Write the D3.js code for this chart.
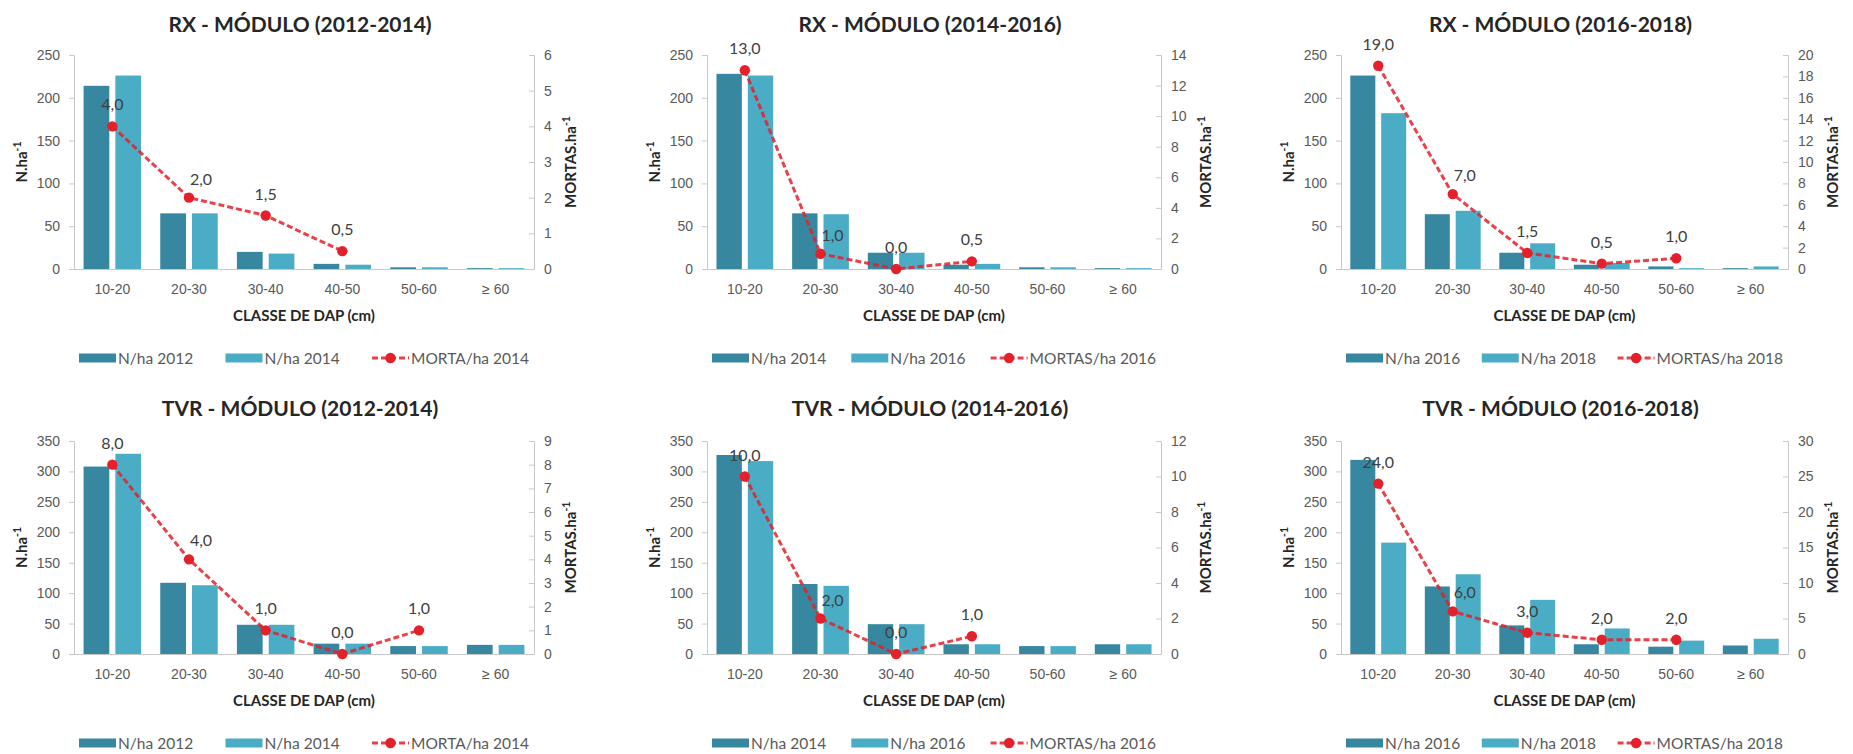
<!DOCTYPE html>
<html>
<head>
<meta charset="utf-8">
<script src="https://cdn.jsdelivr.net/npm/d3@7"></script>
<style>
  html, body { margin: 0; padding: 0; background: #ffffff; }
  svg { display: block; font-family: Lato, "Open Sans", "Liberation Sans", sans-serif; }
</style>
</head>
<body>
<svg id="fig" width="1853" height="754"></svg>
<script>
// Diameter classes (DAP, cm)
const classes = ["10-20", "20-30", "30-40", "40-50", "50-60", "≥ 60"];

// Panel titles
const titles = [
  "RX - MÓDULO (2012-2014)", "RX - MÓDULO (2014-2016)", "RX - MÓDULO (2016-2018)",
  "TVR - MÓDULO (2012-2014)", "TVR - MÓDULO (2014-2016)", "TVR - MÓDULO (2016-2018)"
];

// Legend entries per panel: [first inventory, second inventory, mortality]
const legendNames = [
  ["N/ha 2012", "N/ha 2014", "MORTA/ha 2014"],
  ["N/ha 2014", "N/ha 2016", "MORTAS/ha 2016"],
  ["N/ha 2016", "N/ha 2018", "MORTAS/ha 2018"],
  ["N/ha 2012", "N/ha 2014", "MORTA/ha 2014"],
  ["N/ha 2014", "N/ha 2016", "MORTAS/ha 2016"],
  ["N/ha 2016", "N/ha 2018", "MORTAS/ha 2018"]
];

// Trees per hectare by class
const rx2012 = [214, 65, 20, 6, 2, 1];
const rx2014a = [226, 65, 18, 5, 2, 1];
const rx2014b = [228, 65, 19, 5, 2, 1];
const rx2016a = [226, 64, 19, 6, 2, 1];
const rx2016b = [226, 64, 19, 5, 3, 1];
const rx2018 = [182, 68, 30, 7, 1, 3];
const tvr2012 = [308, 117, 48, 17, 13, 15];
const tvr2014a = [329, 113, 48, 17, 13, 15];
const tvr2014b = [327, 115, 49, 16, 13, 16];
const tvr2016a = [317, 112, 49, 16, 13, 16];
const tvr2016b = [319, 111, 47, 16, 12, 14];
const tvr2018 = [183, 131, 89, 42, 22, 25];

// Dead trees per hectare by class (null = no value)
const rxDead2014 = [4.0, 2.0, 1.5, 0.5, null, null];
const rxDead2016 = [13.0, 1.0, 0.0, 0.5, null, null];
const rxDead2018 = [19.0, 7.0, 1.5, 0.5, 1.0, null];
const tvrDead2014 = [8.0, 4.0, 1.0, 0.0, 1.0, null];
const tvrDead2016 = [10.0, 2.0, 0.0, 1.0, null, null];
const tvrDead2018 = [24.0, 6.0, 3.0, 2.0, 2.0, null];

// Axis extents and tick steps
const leftMax = [250, 250, 250, 350, 350, 350];
const leftStep = [50, 50, 50, 50, 50, 50];
const rightMax = [6, 14, 20, 9, 12, 30];
const rightStep = [1, 2, 2, 1, 2, 5];

const series = [
  [rx2012, rx2014a, rxDead2014],
  [rx2014b, rx2016a, rxDead2016],
  [rx2016b, rx2018, rxDead2018],
  [tvr2012, tvr2014a, tvrDead2014],
  [tvr2014b, tvr2016a, tvrDead2016],
  [tvr2016b, tvr2018, tvrDead2018]
];

// Plot frames (pixels)
const cols = [
  { l: 74, r: 534 },
  { l: 707, r: 1161 },
  { l: 1341, r: 1788 }
];
const rows = [
  { t: 55, b: 269, titleY: 32 },
  { t: 441, b: 654, titleY: 416 }
];

// Value-label nudges per class (the 20-30 labels sit right of the steep segment)
const labelShift = [[0, 0], [12, 3], [0, 0], [0, 0], [0, 0], [0, 0]];

const colDark = "#3787a0";
const colLight = "#4bacc6";
const colRed = "#e4202a";
const colAxis = "#c8c8c8";
const colTick = "#595959";
const colText = "#404040";
const colTitle = "#262626";

const fmt = v => d3.format(".1f")(v).replace(".", ",");

const svg = d3.select("#fig");

function supLabel(sel, base) {
  sel.append("tspan").text(base);
  sel.append("tspan").attr("dy", -6).attr("font-size", "0.7em").text("-1");
}

series.forEach((s, i) => {
  const c = cols[i % 3], rw = rows[Math.floor(i / 3)];
  const mid = (c.l + c.r) / 2;
  const g = svg.append("g");

  const x0 = d3.scaleBand().domain(classes).range([c.l, c.r]).paddingInner(0.25).paddingOuter(0.125);
  const x1 = d3.scaleBand().domain([0, 1]).range([0, x0.bandwidth()]).paddingInner(0.19);
  const yL = d3.scaleLinear().domain([0, leftMax[i]]).range([rw.b, rw.t]);
  const yR = d3.scaleLinear().domain([0, rightMax[i]]).range([rw.b, rw.t]);

  // Title
  g.append("text")
    .attr("x", mid - 4).attr("y", rw.titleY)
    .attr("text-anchor", "middle")
    .attr("font-size", 21).attr("font-weight", 700).attr("fill", colTitle)
    .text(titles[i]);

  // Left axis
  const axL = g.append("g").attr("transform", `translate(${c.l},0)`)
    .call(d3.axisLeft(yL).tickValues(d3.range(0, leftMax[i] + 1e-9, leftStep[i]))
      .tickSize(5).tickPadding(9).tickFormat(d3.format("d")));
  axL.select(".domain").attr("stroke", colAxis);
  axL.selectAll(".tick line").attr("stroke", colAxis);
  axL.selectAll(".tick text").attr("fill", colTick).attr("font-size", 14).attr("font-family", null);

  // Right axis
  const axR = g.append("g").attr("transform", `translate(${c.r},0)`)
    .call(d3.axisRight(yR).tickValues(d3.range(0, rightMax[i] + 1e-9, rightStep[i]))
      .tickSize(-5).tickPadding(10).tickFormat(d3.format("d")));
  axR.select(".domain").attr("stroke", colAxis);
  axR.selectAll(".tick line").attr("stroke", colAxis);
  axR.selectAll(".tick text").attr("fill", colTick).attr("font-size", 14).attr("font-family", null);

  // Category axis
  const axB = g.append("g").attr("transform", `translate(0,${rw.b})`)
    .call(d3.axisBottom(x0).tickSize(0).tickPadding(15));
  axB.select(".domain").attr("stroke", colAxis);
  axB.selectAll(".tick text").attr("fill", colTick).attr("font-size", 14).attr("font-family", null);

  // Axis titles
  g.append("text")
    .attr("transform", `translate(${c.l - 47},${(rw.t + rw.b) / 2}) rotate(-90)`)
    .attr("text-anchor", "middle").attr("font-size", 15).attr("font-weight", 700).attr("fill", colTitle)
    .call(supLabel, "N.ha");
  const rDigits = String(rightMax[i]).length;
  g.append("text")
    .attr("transform", `translate(${c.r + (rDigits > 1 ? 50 : 42)},${(rw.t + rw.b) / 2}) rotate(-90)`)
    .attr("text-anchor", "middle").attr("font-size", 15).attr("font-weight", 700).attr("fill", colTitle)
    .call(supLabel, "MORTAS.ha");
  g.append("text")
    .attr("x", mid).attr("y", rw.b + 52)
    .attr("text-anchor", "middle").attr("font-size", 15).attr("font-weight", 700).attr("fill", colTitle)
    .text("CLASSE DE DAP (cm)");

  // Bars
  [0, 1].forEach(k => {
    g.append("g").selectAll("rect").data(s[k]).join("rect")
      .attr("x", (d, j) => x0(classes[j]) + x1(k))
      .attr("width", x1.bandwidth())
      .attr("y", d => yL(d))
      .attr("height", d => yL(0) - yL(d))
      .attr("fill", k === 0 ? colDark : colLight);
  });

  // Mortality line
  const pts = s[2].map((v, j) => ({ v, j })).filter(p => p.v !== null);
  const cx = p => x0(classes[p.j]) + x0.bandwidth() / 2;
  g.append("path")
    .datum(pts)
    .attr("d", d3.line().x(cx).y(p => yR(p.v)))
    .attr("fill", "none").attr("stroke", colRed).attr("stroke-width", 3)
    .attr("stroke-dasharray", "6,3").attr("opacity", 0.85);
  g.append("g").selectAll("circle").data(pts).join("circle")
    .attr("cx", cx).attr("cy", p => yR(p.v)).attr("r", 5.2)
    .attr("fill", colRed);
  g.append("g").selectAll("text").data(pts).join("text")
    .attr("x", p => cx(p) + labelShift[p.j][0])
    .attr("y", p => yR(p.v) - 16 + labelShift[p.j][1])
    .attr("text-anchor", "middle").attr("font-size", 16).attr("fill", colText)
    .text(p => fmt(p.v));

  // Legend, centred under the plot and spread across its width
  const lg = g.append("g");
  const ly = rw.b + 89;
  const items = legendNames[i].map((nm, k) => {
    const item = lg.append("g");
    if (k < 2) {
      item.append("rect").attr("x", 0).attr("y", ly - 4.5).attr("width", 37).attr("height", 9)
        .attr("fill", k === 0 ? colDark : colLight);
    } else {
      item.append("line").attr("x1", 0).attr("x2", 37).attr("y1", ly).attr("y2", ly)
        .attr("stroke", colRed).attr("stroke-width", 3).attr("stroke-dasharray", "6,3").attr("opacity", 0.85);
      item.append("circle").attr("cx", 18.5).attr("cy", ly).attr("r", 5.2).attr("fill", colRed);
    }
    const t = item.append("text").attr("x", 39).attr("y", ly + 5.5)
      .attr("font-size", 15.5).attr("fill", colTick).text(nm);
    return { item, w: 39 + t.node().getComputedTextLength() };
  });
  const total = d3.sum(items, d => d.w);
  const gap = Math.max(16, (c.r - c.l - 10 - total) / 2);
  let xPos = mid - (total + 2 * gap) / 2;
  items.forEach(d => {
    d.item.attr("transform", `translate(${xPos},0)`);
    xPos += d.w + gap;
  });
});
</script>
</body>
</html>
